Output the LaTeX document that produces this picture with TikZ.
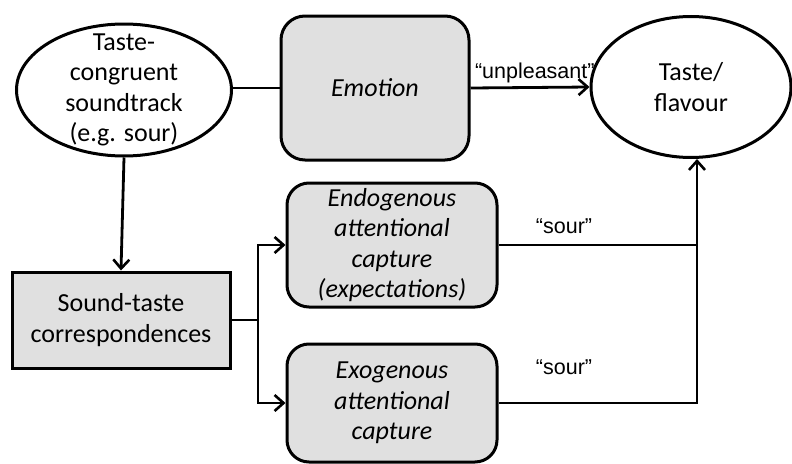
\documentclass[tikz,border=0pt]{standalone}
\usepackage{fontspec}
\setmainfont{Carlito}
\newfontfamily\lblfont{Liberation Sans}
\usetikzlibrary{shapes.geometric,arrows.meta}
\definecolor{boxgray}{RGB}{224,224,224}
\begin{document}
\begin{tikzpicture}[x=1pt,y=-1pt,
  every node/.style={font=\fontsize{26}{30.5}\selectfont, align=center, inner sep=0pt},
  oval/.style={ellipse, draw, line width=3pt, fill=white},
  rbox/.style={rectangle, rounded corners=24pt, draw, line width=3pt, fill=boxgray},
  sbox/.style={rectangle, draw, line width=3pt, fill=boxgray},
  conn/.style={line width=2.8pt},
  arr/.style={conn, -{Straight Barb[length=9pt,width=16pt,line width=2.6pt]}},
  lbl/.style={font=\lblfont\fontsize{21.5}{24}\selectfont}
]
\useasboundingbox (0,0) rectangle (792,463);

\node[oval, minimum width=215pt, minimum height=132pt,
  label={[font=\fontsize{26}{30.5}\selectfont, align=center]center:{Taste-\\congruent\\soundtrack\\(e.g. sour)}}]
  (src) at (124,90) {};
\node[rbox, minimum width=188pt, minimum height=144pt] (emo) at (375,88) {\itshape Emotion};
\node[oval, minimum width=200pt, minimum height=141pt] (taste) at (691,87) {Taste/\\flavour};
\node[sbox, minimum width=218pt, minimum height=96pt] (stc) at (121,320) {Sound-taste\\correspondences};
\node[rbox, rounded corners=22pt, minimum width=210pt, minimum height=124pt] (endo) at (392,245)
  {\itshape Endogenous\\\itshape attentional\\\itshape capture\\\itshape (expectations)};
\node[rbox, rounded corners=22pt, minimum width=210pt, minimum height=118pt] (exo) at (392,403)
  {\itshape Exogenous\\\itshape attentional\\\itshape capture};

\coordinate (split) at (258,320);
\coordinate (join1) at (697,245);
\coordinate (join2) at (697,403);

\draw[conn] (src.east |- emo.west) -- (emo.west);
\draw[arr] (emo.east) -- node[lbl, above=3pt, pos=0.54] {“unpleasant”} (taste.west);
\draw[arr] (src.south) -- (stc.north);
\draw[conn] (stc.east) -- (split);
\draw[arr] (split) |- (endo.west);
\draw[arr] (split) |- (exo.west);
\draw[conn] (endo.east) -- node[lbl, above=10pt, pos=0.33] {“sour”} (join1);
\draw[conn] (exo.east) -- node[lbl, above=27pt, pos=0.33] {“sour”} (join2) -- (join1);
\draw[arr] (join1) -- (join1 |- taste.south);
\end{tikzpicture}
\end{document}
